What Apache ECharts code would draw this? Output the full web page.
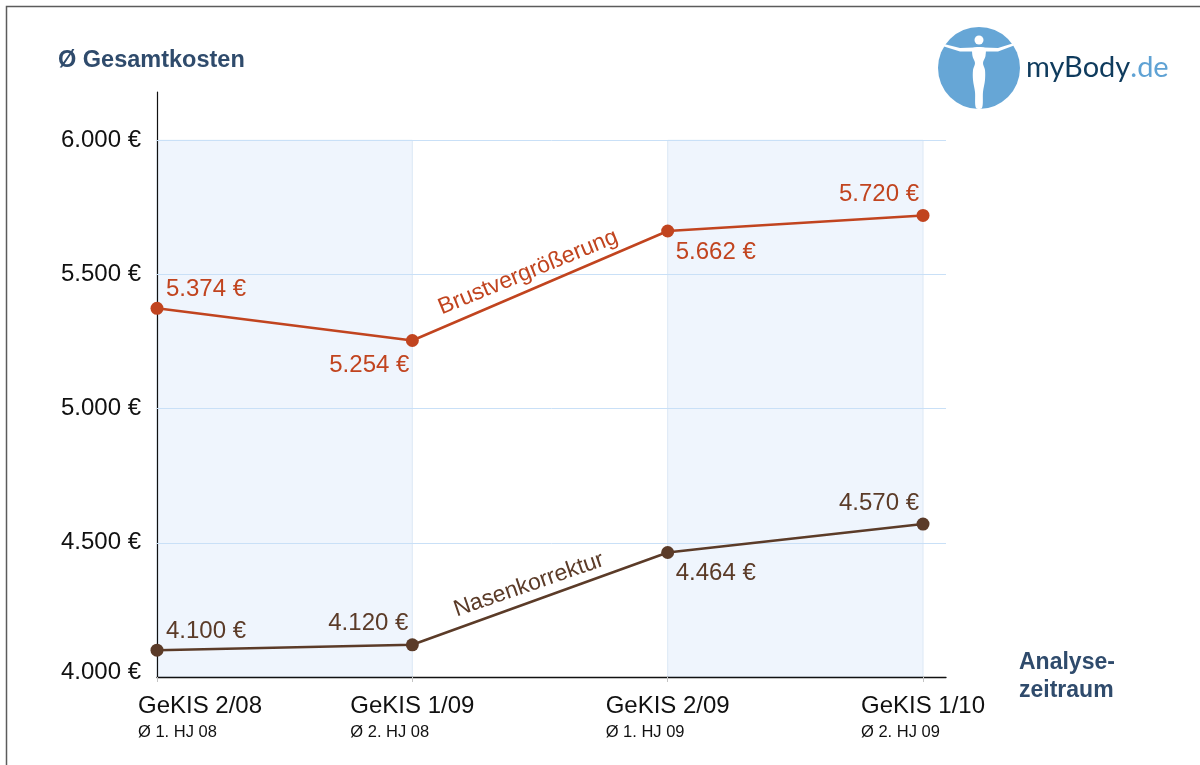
<!DOCTYPE html>
<html>
<head>
<meta charset="utf-8">
<title>Ø Gesamtkosten</title>
<script src="https://cdn.jsdelivr.net/npm/echarts@6/dist/echarts.min.js"></script>
<style>
  html, body { margin: 0; padding: 0; background: #fff; }
  #main { width: 1200px; height: 765px; }
</style>
</head>
<body>
<div id="main"></div>
<script>
// Analysezeiträume
var zeitraeume = ['GeKIS 2/08', 'GeKIS 1/09', 'GeKIS 2/09', 'GeKIS 1/10'];
var halbjahre = ['Ø 1. HJ 08', 'Ø 2. HJ 08', 'Ø 1. HJ 09', 'Ø 2. HJ 09'];
// Ø Gesamtkosten in Euro
var brust = [5374, 5254, 5662, 5720];
var nase = [4100, 4120, 4464, 4570];
// Achsen-Ticks
var yTicks = [4000, 4500, 5000, 5500, 6000];
var xTicks = [0, 1, 2, 3];

var FONT = '"Liberation Sans", Arial, sans-serif';
var ROT = '#c1441f';
var BRAUN = '#5b3b28';
var BLAU = '#2f4b6c';

// wo die Wertelabels sitzen (oben/unten, links/rechts vom Punkt)
var spots = {
  tr: { align: 'left', offset: [9, -19] },
  tl: { align: 'right', offset: [-4, -21] },
  br: { align: 'left', offset: [8, 21] },
  bl: { align: 'right', offset: [-3, 25] }
};
var brustSpots = ['tr', 'bl', 'br', 'tl'];
var naseSpots = ['tr', 'tl', 'br', 'tl'];

function euro(v) {
  return String(v).replace(/\B(?=(\d{3})+(?!\d))/g, '.') + ' €';
}

function punkte(werte, spotList, farbe) {
  return werte.map(function (v, i) {
    var s = spots[spotList[i]];
    return {
      value: [i, v],
      label: {
        show: true,
        position: 'inside',
        align: s.align,
        verticalAlign: 'middle',
        offset: s.offset,
        color: farbe,
        fontSize: 24,
        fontFamily: FONT,
        formatter: function (p) { return euro(p.value[1]); }
      }
    };
  });
}

// Beschriftung entlang des Segments 1 -> 2
function segmentName(werte, name, farbe) {
  return {
    silent: true,
    symbol: 'none',
    lineStyle: { width: 0, color: 'transparent' },
    label: {
      show: true,
      position: 'insideMiddleTop',
      distance: 3,
      formatter: name,
      color: farbe,
      fontSize: 23,
      fontFamily: FONT
    },
    emphasis: { disabled: true },
    data: [[{ coord: [0.95, werte[1]] }, { coord: [2, werte[2]] }]]
  };
}

var chart = echarts.init(document.getElementById('main'));

var option = {
  animation: false,
  backgroundColor: '#fff',
  title: {
    text: 'Ø Gesamtkosten',
    left: 58,
    top: 49,
    padding: 0,
    textStyle: { fontSize: 23.5, fontWeight: 'bold', color: BLAU, fontFamily: FONT }
  },
  grid: { left: 157, right: 254, top: 92, bottom: 88 },
  xAxis: {
    type: 'value',
    min: 0,
    max: 3.09,
    interval: 1,
    name: 'Analyse-\nzeitraum',
    nameLocation: 'end',
    nameGap: 73,
    nameTextStyle: {
      fontSize: 23, fontWeight: 'bold', color: BLAU, fontFamily: FONT,
      align: 'left', verticalAlign: 'middle', lineHeight: 28, padding: [20, 0, 0, 0]
    },
    axisLine: { lineStyle: { color: '#111', width: 1.3 } },
    axisTick: { show: true, customValues: xTicks, length: 5, lineStyle: { color: '#c4c4c4' } },
    splitLine: { show: false },
    axisLabel: {
      customValues: xTicks,
      margin: 15,
      color: '#111',
      fontFamily: FONT,
      formatter: function (v) {
        var i = Math.round(v);
        if (i === 0) {
          return '{first|' + zeitraeume[i] + '}\n{firstSub|' + halbjahre[i] + '}';
        }
        return '{main|' + zeitraeume[i] + '}\n{sub|' + halbjahre[i] + '}';
      },
      rich: {
        main: { fontSize: 24, lineHeight: 28, align: 'left', color: '#111', fontFamily: FONT },
        sub: { fontSize: 16.5, lineHeight: 24, align: 'left', color: '#111', fontFamily: FONT },
        first: { fontSize: 24, lineHeight: 28, align: 'left', color: '#111', fontFamily: FONT, padding: [0, 0, 0, 86] },
        firstSub: { fontSize: 16.5, lineHeight: 24, align: 'left', color: '#111', fontFamily: FONT, padding: [0, 0, 0, 86] }
      }
    }
  },
  yAxis: {
    type: 'value',
    min: 4000,
    max: 6180,
    interval: 500,
    axisLine: { show: true, lineStyle: { color: '#111', width: 1.2 } },
    axisTick: { show: false },
    splitLine: { show: false },
    axisLabel: {
      customValues: yTicks,
      margin: 16,
      fontSize: 24,
      color: '#111',
      fontFamily: FONT,
      formatter: function (v) {
        if (v === yTicks[0]) return '{low|' + euro(v) + '}';
        return euro(v);
      },
      rich: {
        low: { fontSize: 24, color: '#111', fontFamily: FONT, padding: [0, 0, 10, 0] }
      }
    }
  },
  graphic: [
    // Rahmen
    { type: 'rect', silent: true, z: 100,
      shape: { x: 6.5, y: 6.5, width: 1400, height: 1000 },
      style: { fill: 'none', stroke: '#5c5c5c', lineWidth: 1.5 } },
    // Logo
    { type: 'circle', silent: true, shape: { cx: 979, cy: 68, r: 41 }, style: { fill: '#66a6d6' } },
    { type: 'circle', silent: true, shape: { cx: 979, cy: 40, r: 4.5 }, style: { fill: '#fff' } },
    { type: 'polygon', silent: true,
      shape: { points: [[944, 44], [960, 48], [974, 47.5], [984, 47.5], [998, 48], [1014, 43],
        [1014, 45.5], [998, 51.5], [984, 51.5], [974, 51.5], [960, 51.5], [944, 46.5]] },
      style: { fill: '#fff' } },
    { type: 'polygon', silent: true,
      shape: { smooth: 0.3, points: [[973, 48], [972.5, 56], [975, 63], [973, 70], [973, 80], [975, 92], [976, 108],
        [982, 108], [983, 92], [985, 80], [985, 70], [983, 63], [985.5, 56], [985, 48]] },
      style: { fill: '#fff' } },
    { type: 'text', silent: true, x: 1026, y: 68,
      style: {
        text: '{a|myBody}{b|.de}',
        verticalAlign: 'middle',
        rich: {
          a: { fontSize: 29, fontFamily: 'Lato, "Open Sans", sans-serif', fill: '#0f3b5d' },
          b: { fontSize: 29, fontFamily: 'Lato, "Open Sans", sans-serif', fill: '#5fa2d4' }
        }
      } }
  ],
  series: [
    {
      // Hintergrund: Streifen und Gitterlinien
      type: 'line',
      data: [],
      silent: true,
      z: 1,
      markArea: {
        silent: true,
        z: 0,
        itemStyle: { color: '#eff5fd', borderColor: '#dde9f6', borderWidth: 1 },
        data: [
          [{ xAxis: 0, yAxis: yTicks[0] }, { xAxis: 1, yAxis: yTicks[4] }],
          [{ xAxis: 2, yAxis: yTicks[0] }, { xAxis: 3, yAxis: yTicks[4] }]
        ]
      },
      markLine: {
        silent: true,
        z: 1,
        symbol: 'none',
        label: { show: false },
        emphasis: { disabled: true },
        lineStyle: { color: '#c9e0f7', type: 'solid', width: 1 },
        data: yTicks.slice(1).map(function (t) { return { yAxis: t }; })
      }
    },
    {
      name: 'Brustvergrößerung',
      type: 'line',
      z: 3,
      data: punkte(brust, brustSpots, ROT),
      symbol: 'circle',
      symbolSize: 13,
      showAllSymbol: true,
      color: ROT,
      lineStyle: { color: ROT, width: 2.5 },
      itemStyle: { color: ROT },
      emphasis: { disabled: true },
      markLine: segmentName(brust, 'Brustvergrößerung', ROT)
    },
    {
      name: 'Nasenkorrektur',
      type: 'line',
      z: 3,
      data: punkte(nase, naseSpots, BRAUN),
      symbol: 'circle',
      symbolSize: 13,
      showAllSymbol: true,
      color: BRAUN,
      lineStyle: { color: BRAUN, width: 2.5 },
      itemStyle: { color: BRAUN },
      emphasis: { disabled: true },
      markLine: segmentName(nase, 'Nasenkorrektur', BRAUN)
    }
  ]
};

chart.setOption(option);
</script>
</body>
</html>
